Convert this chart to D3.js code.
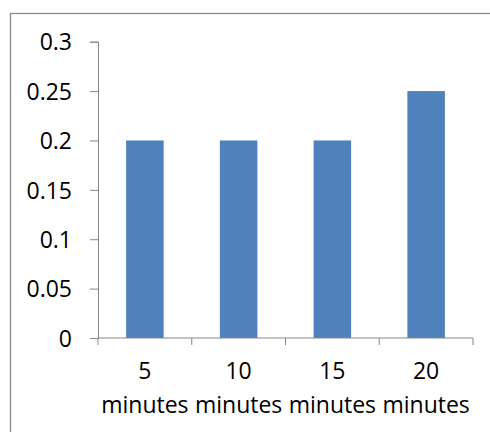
<!DOCTYPE html>
<html>
<head>
<meta charset="utf-8">
<script src="https://cdn.jsdelivr.net/npm/d3@7"></script>
<style>
  html, body { margin: 0; padding: 0; background: #fff; }
  svg { display: block; }
  text { font-family: 'Open Sans', sans-serif; font-size: 23px; fill: #000; }
</style>
</head>
<body>
<svg id="chart" width="490" height="432"></svg>
<script>
const categories = ['5', '10', '15', '20'];
const catUnit = 'minutes';
const values = [0.2, 0.2, 0.2, 0.25];
const yTicks = [0, 0.05, 0.1, 0.15, 0.2, 0.25, 0.3];

const svg = d3.select('#chart');
const axisColor = '#868686';

// outer chart border (runs off the right and bottom edges)
svg.append('rect')
  .attr('x', 10.5).attr('y', 13.5)
  .attr('width', 490).attr('height', 432)
  .attr('fill', 'none')
  .attr('stroke', '#898989')
  .attr('stroke-width', 1.3);

const plot = { left: 98, right: 473, top: 41.7, bottom: 338 };

const x = d3.scaleBand()
  .domain(categories)
  .range([plot.left, plot.right])
  .paddingInner(0.6)
  .paddingOuter(0.3);

const y = d3.scaleLinear()
  .domain([0, 0.3])
  .range([plot.bottom, plot.top]);

// bars
svg.append('g')
  .selectAll('rect')
  .data(values)
  .join('rect')
  .attr('x', (d, i) => x(categories[i]))
  .attr('y', d => y(d))
  .attr('width', x.bandwidth())
  .attr('height', d => y(0) - y(d))
  .attr('fill', '#4f81bd');

// y axis
const yAxis = svg.append('g')
  .attr('transform', `translate(${plot.left},0)`)
  .call(d3.axisLeft(y).tickValues(yTicks).tickFormat(d => String(d)).tickSize(8).tickPadding(18));
yAxis.attr('font-family', null).attr('font-size', null);
yAxis.select('.domain').attr('stroke', axisColor);
yAxis.selectAll('.tick line').attr('stroke', axisColor);
yAxis.selectAll('.tick text').attr('dy', '0.36em');

// x axis: line plus tick marks on category boundaries
const xg = svg.append('g');
xg.append('line')
  .attr('x1', plot.left).attr('x2', plot.right)
  .attr('y1', y(0)).attr('y2', y(0))
  .attr('stroke', axisColor);
const bounds = d3.range(categories.length + 1).map(i => plot.left + i * x.step());
xg.selectAll('line.tk')
  .data(bounds)
  .join('line')
  .attr('class', 'tk')
  .attr('x1', d => d).attr('x2', d => d)
  .attr('y1', y(0)).attr('y2', y(0) + 7)
  .attr('stroke', axisColor);

const labels = xg.selectAll('text')
  .data(categories)
  .join('text')
  .attr('text-anchor', 'middle')
  .attr('x', d => x(d) + x.bandwidth() / 2)
  .attr('y', y(0) + 41);
labels.append('tspan').text(d => d);
labels.append('tspan')
  .attr('x', d => x(d) + x.bandwidth() / 2)
  .attr('dy', 34)
  .text(catUnit);
</script>
</body>
</html>
